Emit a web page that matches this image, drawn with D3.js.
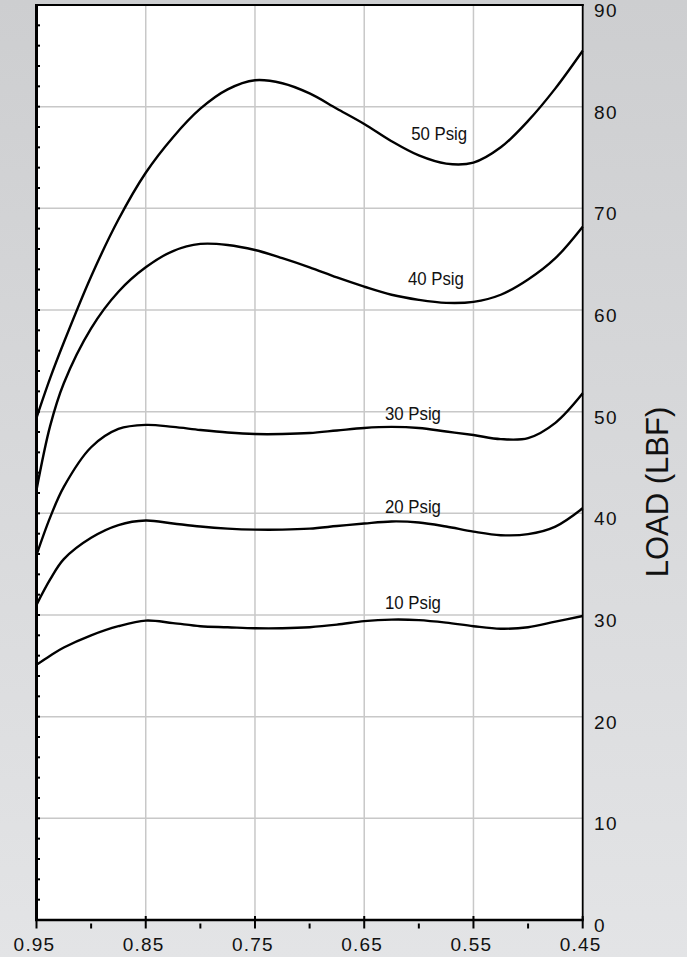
<!DOCTYPE html>
<html>
<head>
<meta charset="utf-8">
<script src="https://cdn.jsdelivr.net/npm/d3@7"></script>
<style>
  html, body { margin: 0; padding: 0; }
  svg { display: block; }
</style>
</head>
<body>
<svg id="chart" width="687" height="957"></svg>
<script>
// ---- data ----
const xValues = [0.95, 0.9375, 0.925, 0.9, 0.875, 0.85, 0.825, 0.8, 0.775, 0.75, 0.725, 0.7,
                 0.675, 0.65, 0.625, 0.6, 0.575, 0.55, 0.525, 0.5, 0.475, 0.45];
const psig50 = [49.4, 53.3, 56.8, 63.3, 68.9, 73.5, 77.0, 79.8, 81.7, 82.6, 82.3, 81.3,
                79.8, 78.3, 76.6, 75.2, 74.4, 74.5, 76.0, 78.6, 81.8, 85.5];
const psig40 = [42.3, 48.6, 52.8, 58.2, 61.8, 64.2, 65.8, 66.5, 66.4, 65.9, 65.1, 64.2,
                63.2, 62.3, 61.5, 61.0, 60.7, 60.8, 61.5, 63.0, 65.1, 68.2];
const psig30 = [35.9, 39.6, 42.6, 46.5, 48.3, 48.7, 48.5, 48.2, 47.95, 47.8, 47.8, 47.9,
                48.15, 48.4, 48.5, 48.4, 48.05, 47.7, 47.3, 47.4, 48.9, 51.8];
const psig20 = [31.0, 33.5, 35.5, 37.6, 38.85, 39.3, 39.0, 38.7, 38.5, 38.4, 38.4, 38.5,
                38.75, 39.0, 39.2, 39.1, 38.7, 38.2, 37.85, 37.95, 38.7, 40.5];
const psig10 = [25.1, 26.0, 26.8, 28.0, 28.9, 29.45, 29.2, 28.9, 28.8, 28.7, 28.7, 28.8,
                29.05, 29.4, 29.55, 29.5, 29.25, 28.9, 28.65, 28.8, 29.35, 29.9];
const seriesNames = ["50 Psig", "40 Psig", "30 Psig", "20 Psig", "10 Psig"];
const labelX = [0.607, 0.610, 0.631, 0.631, 0.631];
const labelY = [76.7, 62.5, 49.2, 40.06, 30.55];
const xMajorTicks = [0.95, 0.85, 0.75, 0.65, 0.55, 0.45];
const xTickLabels = ["0.95", "0.85", "0.75", "0.65", "0.55", "0.45"];
const xMinorTicks = [0.9, 0.8, 0.7, 0.6, 0.5];
const yTicks = [0, 10, 20, 30, 40, 50, 60, 70, 80, 90];
const yTickLabels = ["0", "10", "20", "30", "40", "50", "60", "70", "80", "90"];
const yMinorTicks = d3.range(0, 91, 2);
const xGrid = [0.85, 0.75, 0.65, 0.55];
const yGrid = [10, 20, 30, 40, 50, 60, 70, 80];
const yTitle = "LOAD (LBF)";

// ---- layout ----
const W = 687, H = 957;
const pLeft = 36.5, pRight = 582.7, pTop = 5, pBottom = 920;
const x = d3.scaleLinear().domain([0.95, 0.45]).range([pLeft, pRight]);
const y = d3.scaleLinear().domain([0, 90]).range([pBottom, pTop]);

const svg = d3.select("#chart");
const defs = svg.append("defs");
const grad = defs.append("linearGradient").attr("id", "bg")
  .attr("x1", 0).attr("y1", 0).attr("x2", 0).attr("y2", 1);
grad.append("stop").attr("offset", "0%").attr("stop-color", "#cdced0");
grad.append("stop").attr("offset", "100%").attr("stop-color", "#e3e4e6");
svg.append("rect").attr("width", W).attr("height", H).attr("fill", "url(#bg)");

// plot area
svg.append("rect").attr("x", pLeft).attr("y", pTop)
  .attr("width", pRight - pLeft).attr("height", pBottom - pTop).attr("fill", "#ffffff");

// grid
const grid = svg.append("g").attr("stroke", "#c8c8c8").attr("stroke-width", 1.5);
grid.selectAll(".gx").data(xGrid).join("line").attr("class", "gx")
  .attr("x1", d => x(d)).attr("x2", d => x(d)).attr("y1", pTop).attr("y2", pBottom);
grid.selectAll(".gy").data(yGrid).join("line").attr("class", "gy")
  .attr("x1", pLeft).attr("x2", pRight).attr("y1", d => y(d)).attr("y2", d => y(d));

// curves
const allSeries = [psig50, psig40, psig30, psig20, psig10];
const line = d3.line().x((d, i) => x(xValues[i])).y(d => y(d)).curve(d3.curveCatmullRom.alpha(0.5));
svg.append("g").selectAll("path").data(allSeries).join("path")
  .attr("d", d => line(d)).attr("fill", "none").attr("stroke", "#000")
  .attr("stroke-width", 2.4).attr("stroke-linejoin", "round");

// series labels
svg.append("g").selectAll("text").data(seriesNames).join("text")
  .attr("x", (d, i) => x(labelX[i])).attr("y", (d, i) => y(labelY[i]))
  .attr("font-family", "'Liberation Sans Narrow', 'Liberation Sans', Arial, sans-serif")
  .attr("font-size", 18.5).attr("fill", "#111")
  .attr("textLength", 56).attr("lengthAdjust", "spacingAndGlyphs")
  .text(d => d);

// borders
svg.append("line").attr("x1", pLeft - 1.5).attr("x2", pRight + 1).attr("y1", pTop).attr("y2", pTop)
  .attr("stroke", "#000").attr("stroke-width", 2);
svg.append("line").attr("x1", pRight).attr("x2", pRight).attr("y1", pTop - 1).attr("y2", pBottom)
  .attr("stroke", "#000").attr("stroke-width", 1.8);
// left axis
svg.append("line").attr("x1", pLeft).attr("x2", pLeft).attr("y1", pTop - 1).attr("y2", pBottom + 1)
  .attr("stroke", "#000").attr("stroke-width", 3);
svg.append("g").selectAll("line").data(yMinorTicks).join("line")
  .attr("x1", pLeft).attr("x2", pLeft + 3.5).attr("y1", d => y(d)).attr("y2", d => y(d))
  .attr("stroke", "#000").attr("stroke-width", 2);
// bottom axis
svg.append("line").attr("x1", pLeft - 1.5).attr("x2", pRight + 1).attr("y1", pBottom).attr("y2", pBottom)
  .attr("stroke", "#000").attr("stroke-width", 2.5);
svg.append("g").selectAll("line").data(xMajorTicks).join("line")
  .attr("x1", d => x(d)).attr("x2", d => x(d)).attr("y1", pBottom - 4).attr("y2", pBottom + 8.5)
  .attr("stroke", "#000").attr("stroke-width", 2);
svg.append("g").selectAll("line").data(xMinorTicks).join("line")
  .attr("x1", d => x(d)).attr("x2", d => x(d)).attr("y1", pBottom + 3.5).attr("y2", pBottom + 8.5)
  .attr("stroke", "#000").attr("stroke-width", 2);

// x tick labels
svg.append("g").selectAll("text").data(xMajorTicks).join("text")
  .attr("x", d => x(d) - 2).attr("y", 951)
  .attr("text-anchor", "middle")
  .attr("font-family", "'Liberation Sans', Arial, sans-serif")
  .attr("font-size", 19).attr("letter-spacing", 1.2).attr("fill", "#111")
  .text((d, i) => xTickLabels[i]);

// y tick labels (right)
svg.append("g").selectAll("text").data(yTicks).join("text")
  .attr("x", 594).attr("y", d => y(d) + 12)
  .attr("font-family", "'Liberation Sans', Arial, sans-serif")
  .attr("font-size", 19).attr("letter-spacing", 1.5).attr("fill", "#111")
  .text((d, i) => yTickLabels[i]);

// y title
svg.append("text")
  .attr("transform", "translate(668,492) rotate(-90)")
  .attr("text-anchor", "middle")
  .attr("font-family", "'Liberation Sans', Arial, sans-serif")
  .attr("font-size", 31).attr("fill", "#111")
  .text(yTitle);
</script>
</body>
</html>
